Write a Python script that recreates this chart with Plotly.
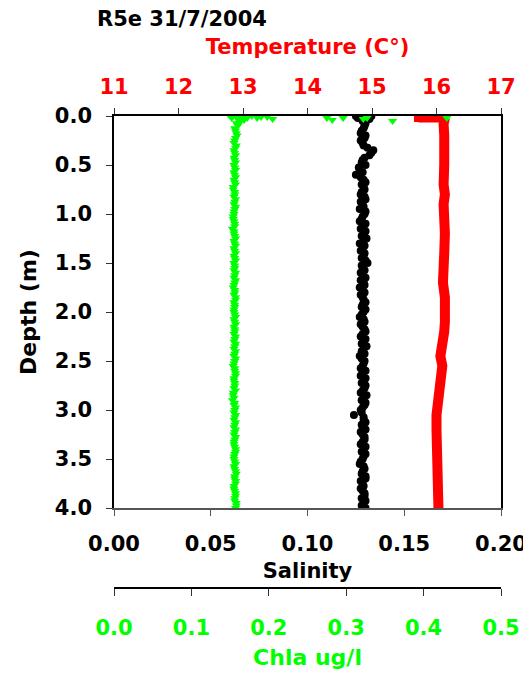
import plotly.graph_objects as go

# ---------------- data ----------------
depth_grid = [0.00, 0.05, 0.10, 0.15, 0.20, 0.25, 0.30, 0.35, 0.40, 0.45,
              0.50, 0.55, 0.60, 0.65, 0.70, 0.75, 0.80, 0.85, 0.90, 0.95,
              1.00, 1.05, 1.10, 1.15, 1.20, 1.25, 1.30, 1.35, 1.40, 1.45,
              1.50, 1.55, 1.60, 1.65, 1.70, 1.75, 1.80, 1.85, 1.90, 1.95,
              2.00, 2.05, 2.10, 2.15, 2.20, 2.25, 2.30, 2.35, 2.40, 2.45,
              2.50, 2.55, 2.60, 2.65, 2.70, 2.75, 2.80, 2.85, 2.90, 2.95,
              3.00, 3.05, 3.10, 3.15, 3.20, 3.25, 3.30, 3.35, 3.40, 3.45,
              3.50, 3.55, 3.60, 3.65, 3.70, 3.75, 3.80, 3.85, 3.90, 3.95,
              4.00]

depth_grid2 = [0.025, 0.075, 0.125, 0.175, 0.225, 0.275, 0.325, 0.375, 0.425, 0.475,
               0.525, 0.575, 0.625, 0.675, 0.725, 0.775, 0.825, 0.875, 0.925, 0.975,
               1.025, 1.075, 1.125, 1.175, 1.225, 1.275, 1.325, 1.375, 1.425, 1.475,
               1.525, 1.575, 1.625, 1.675, 1.725, 1.775, 1.825, 1.875, 1.925, 1.975,
               2.025, 2.075, 2.125, 2.175, 2.225, 2.275, 2.325, 2.375, 2.425, 2.475,
               2.525, 2.575, 2.625, 2.675, 2.725, 2.775, 2.825, 2.875, 2.925, 2.975,
               3.025, 3.075, 3.125, 3.175, 3.225, 3.275, 3.325, 3.375, 3.425, 3.475,
               3.525, 3.575, 3.625, 3.675, 3.725, 3.775, 3.825, 3.875, 3.925, 3.975]

salinity = [0.1290, 0.1285, 0.1295, 0.1280, 0.1300, 0.1275, 0.1290, 0.1340, 0.1320, 0.1285,
            0.1300, 0.1270, 0.1250, 0.1290, 0.1280, 0.1295, 0.1275, 0.1300, 0.1285, 0.1270,
            0.1295, 0.1280, 0.1300, 0.1275, 0.1290, 0.1305, 0.1270, 0.1285, 0.1295, 0.1280,
            0.1310, 0.1285, 0.1275, 0.1300, 0.1290, 0.1270, 0.1295, 0.1285, 0.1300, 0.1280,
            0.1290, 0.1270, 0.1295, 0.1285, 0.1300, 0.1275, 0.1290, 0.1305, 0.1280, 0.1270,
            0.1295, 0.1285, 0.1300, 0.1275, 0.1290, 0.1300, 0.1285, 0.1305, 0.1280, 0.1295,
            0.1275, 0.1240, 0.1290, 0.1280, 0.1300, 0.1285, 0.1295, 0.1275, 0.1290, 0.1300,
            0.1285, 0.1270, 0.1295, 0.1280, 0.1300, 0.1285, 0.1275, 0.1295, 0.1280, 0.1290,
            0.1300]

salinity2 = [0.1280, 0.1300, 0.1290, 0.1275, 0.1295, 0.1285, 0.1310, 0.1330, 0.1295, 0.1280,
             0.1265, 0.1285, 0.1275, 0.1300, 0.1290, 0.1280, 0.1295, 0.1275, 0.1290, 0.1300,
             0.1285, 0.1270, 0.1290, 0.1300, 0.1280, 0.1290, 0.1295, 0.1275, 0.1290, 0.1300,
             0.1280, 0.1295, 0.1285, 0.1275, 0.1295, 0.1285, 0.1275, 0.1290, 0.1285, 0.1300,
             0.1280, 0.1290, 0.1275, 0.1295, 0.1285, 0.1300, 0.1280, 0.1290, 0.1295, 0.1280,
             0.1290, 0.1275, 0.1285, 0.1300, 0.1280, 0.1295, 0.1275, 0.1290, 0.1300, 0.1285,
             0.1280, 0.1290, 0.1300, 0.1285, 0.1275, 0.1295, 0.1285, 0.1300, 0.1280, 0.1290,
             0.1275, 0.1290, 0.1285, 0.1300, 0.1275, 0.1290, 0.1285, 0.1295, 0.1300, 0.1280]

sal_surface_depth = [0.00, 0.00, 0.02, 0.03, 0.01]
sal_surface = [0.1250, 0.1330, 0.1260, 0.1320, 0.1300]

chla = [0.158, 0.163, 0.160, 0.157, 0.159, 0.156, 0.158, 0.155, 0.157, 0.156,
        0.155, 0.157, 0.156, 0.155, 0.157, 0.154, 0.156, 0.157, 0.155, 0.156,
        0.155, 0.154, 0.156, 0.153, 0.155, 0.157, 0.156, 0.155, 0.157, 0.156,
        0.155, 0.156, 0.157, 0.155, 0.156, 0.154, 0.156, 0.157, 0.155, 0.156,
        0.155, 0.157, 0.156, 0.155, 0.156, 0.157, 0.155, 0.156, 0.157, 0.155,
        0.156, 0.154, 0.156, 0.157, 0.155, 0.156, 0.157, 0.154, 0.153, 0.155,
        0.156, 0.157, 0.155, 0.156, 0.157, 0.155, 0.156, 0.155, 0.157, 0.156,
        0.155, 0.157, 0.156, 0.158, 0.156, 0.157, 0.155, 0.157, 0.156, 0.158,
        0.157]

chla2 = [0.160, 0.158, 0.156, 0.158, 0.157, 0.155, 0.157, 0.156, 0.155, 0.157,
         0.156, 0.155, 0.157, 0.156, 0.154, 0.156, 0.155, 0.156, 0.157, 0.155,
         0.154, 0.155, 0.156, 0.155, 0.156, 0.155, 0.157, 0.156, 0.155, 0.157,
         0.156, 0.155, 0.156, 0.157, 0.155, 0.156, 0.155, 0.157, 0.156, 0.155,
         0.156, 0.155, 0.157, 0.156, 0.155, 0.156, 0.157, 0.155, 0.156, 0.157,
         0.155, 0.156, 0.157, 0.155, 0.156, 0.155, 0.154, 0.155, 0.156, 0.157,
         0.155, 0.156, 0.157, 0.155, 0.156, 0.157, 0.155, 0.156, 0.157, 0.155,
         0.156, 0.155, 0.157, 0.156, 0.157, 0.155, 0.156, 0.157, 0.156, 0.158]

chla_surface_depth = [0.00, 0.01, 0.02, 0.03, 0.00, 0.02, 0.04, 0.07, 0.01, 0.03,
                      0.02, 0.04, 0.02, 0.03, 0.02, 0.01, 0.02, 0.05, 0.02]
chla_surface = [0.150, 0.165, 0.172, 0.160, 0.178, 0.185, 0.168, 0.162, 0.198, 0.205,
                0.275, 0.282, 0.296, 0.322, 0.327, 0.190, 0.152, 0.360, 0.430]

temp_depth = [0.02, 0.08, 0.20, 0.35, 0.50, 0.70, 0.80, 0.90, 1.00, 1.20,
              1.40, 1.55, 1.70, 1.85, 1.95, 2.10, 2.20, 2.35, 2.45, 2.55,
              2.65, 2.80, 2.95, 3.05, 3.20, 3.40, 3.55, 3.70, 3.85, 4.00]
temperature = [16.13, 16.11, 16.12, 16.13, 16.12, 16.11, 16.13, 16.11, 16.12, 16.13,
               16.12, 16.11, 16.10, 16.13, 16.14, 16.13, 16.12, 16.10, 16.06, 16.09,
               16.07, 16.03, 16.01, 16.00, 16.00, 16.00, 16.02, 16.01, 16.02, 16.03]

temp_surface_depth = [0.06, 0.02, 0.02]
temp_surface = [15.72, 15.72, 16.15]

# ---------------- figure ----------------
RED = "#FF0000"
GREEN = "#00FF00"
FONT = "DejaVu Sans"

# page body has an 8px margin; figure is sized to fit inside the window
W, H = 523, 669

fig = go.Figure()

fig.add_trace(go.Scatter(x=temp_surface, y=temp_surface_depth, xaxis="x2", yaxis="y",
                         mode="lines", line=dict(color=RED, width=9), hoverinfo="skip"))
fig.add_trace(go.Scatter(x=temperature, y=temp_depth, xaxis="x2", yaxis="y",
                         mode="lines", line=dict(color=RED, width=10), name="Temperature"))
fig.add_trace(go.Scatter(x=salinity + salinity2 + sal_surface,
                         y=depth_grid + depth_grid2 + sal_surface_depth,
                         xaxis="x", yaxis="y", mode="markers",
                         marker=dict(symbol="circle", size=8, color="black"), name="Salinity"))
fig.add_trace(go.Scatter(x=chla + chla2 + chla_surface,
                         y=depth_grid + depth_grid2 + chla_surface_depth,
                         xaxis="x3", yaxis="y", mode="markers",
                         marker=dict(symbol="triangle-down", size=8, color=GREEN), name="Chla"))

tickfont = dict(family=FONT, size=21, weight="bold", color="black")

fig.update_layout(
    width=W, height=H,
    margin=dict(l=106, r=30, t=108, b=89, pad=0),
    paper_bgcolor="white", plot_bgcolor="white",
    showlegend=False,
    font=dict(family=FONT, size=20, color="black", weight="bold"),
    title=dict(text="R5e 31/7/2004", x=89 / W, xanchor="left", xref="container",
               y=1 - 11 / H, yref="container", yanchor="middle",
               font=dict(family=FONT, size=21, weight="bold", color="black")),
    xaxis=dict(range=[0, 0.2], dtick=0.05, tick0=0, tickformat=".2f",
               side="bottom", anchor="y", showgrid=False, zeroline=False,
               automargin=False,
               showline=True, linecolor="#555555", linewidth=1.5,
               ticks="outside", ticklen=6, tickcolor="#555555", tickwidth=1,
               tickfont=tickfont, ticklabelstandoff=10,
               title=dict(text="Salinity", font=dict(family=FONT, size=21, weight="bold"),
                          standoff=8)),
    xaxis2=dict(range=[11, 17], dtick=1, tick0=11, overlaying="x", side="top",
                anchor="y", showgrid=False, zeroline=False, automargin=False,
                showline=True, linecolor="black", linewidth=1.5,
                ticks="outside", ticklen=6, tickcolor="#333333",
                tickfont=dict(family=FONT, size=21, weight="bold", color=RED),
                ticklabelstandoff=6,
                title=dict(text="Temperature (C°)",
                           font=dict(family=FONT, size=21, weight="bold", color=RED),
                           standoff=14)),
    xaxis3=dict(range=[0, 0.5], dtick=0.1, tick0=0, tickformat=".1f",
                overlaying="x", anchor="free", position=0, side="bottom",
                showgrid=False, zeroline=False, automargin=False,
                showline=True, linecolor="black", linewidth=1.5,
                ticks="outside", ticklen=7, tickcolor="#333333",
                tickfont=dict(family=FONT, size=21, weight="bold", color=GREEN),
                ticklabelstandoff=14,
                title=dict(text="Chla ug/l",
                           font=dict(family=FONT, size=22, weight="bold", color=GREEN),
                           standoff=10)),
    yaxis=dict(domain=[(580 - 500) / (580 - 108), 1], range=[4, 0], dtick=0.5, tick0=0,
               tickformat=".1f", showgrid=False, zeroline=False, automargin=False,
               showline=True, linecolor="black", linewidth=1.5, mirror=True,
               ticks="outside", ticklen=6, tickcolor="#333333",
               tickfont=tickfont, ticklabelstandoff=10,
               title=dict(text="Depth (m)", font=dict(family=FONT, size=22, weight="bold"),
                          standoff=12)),
)

fig.write_html("out.html")
